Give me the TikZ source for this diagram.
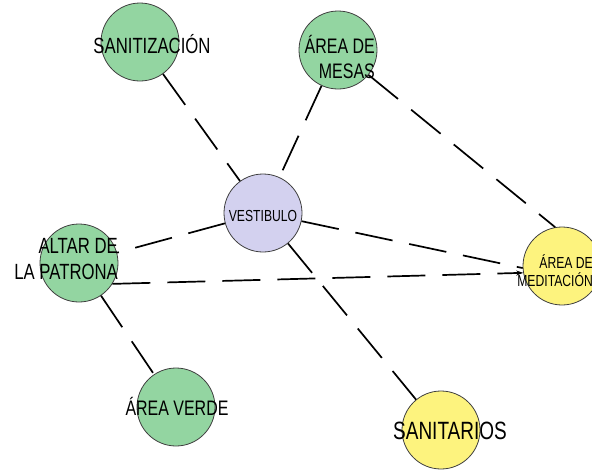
\documentclass[tikz,border=0pt]{standalone}
\usepackage{fontspec}
\setmainfont[FakeStretch=0.76]{Liberation Sans}
\usetikzlibrary{arrows.meta}
\definecolor{zonegreen}{HTML}{93D5A1}
\definecolor{zonelilac}{HTML}{D3D1EF}
\definecolor{zoneyellow}{HTML}{FDF37E}

\begin{document}
\begin{tikzpicture}[x=1pt, y=-1pt,
    zone/.style={circle, draw=black!75, line width=0.8pt, minimum size=78pt, inner sep=0pt},
    link/.style={line width=1.7pt, dash pattern=on 38pt off 17pt},
    zonetext/.style={inner sep=0pt, text=black}]
    \useasboundingbox (0,0) rectangle (592,469);

    % Zones
    \node[zone, fill=zonegreen] (sanitizacion) at (140,42) {};
    \node[zone, fill=zonegreen] (mesas) at (338,50) {};
    \node[zone, fill=zonelilac] (vestibulo) at (263,213) {};
    \node[zone, fill=zonegreen] (altar) at (79,263) {};
    \node[zone, fill=zoneyellow] (meditacion) at (562,266) {};
    \node[zone, fill=zonegreen] (verde) at (176,407) {};
    \node[zone, fill=zoneyellow] (sanitarios) at (441,430) {};

    % Links between zones
    \draw[link] (sanitizacion) -- (vestibulo);
    \draw[link] (mesas) -- (vestibulo);
    \draw[link] (mesas) -- (meditacion.100);
    \draw[link] (vestibulo) -- (altar);
    \draw[link] (vestibulo) -- (meditacion.183);
    \draw[link, -{Stealth[length=7pt, width=5pt]}] (altar.-32) -- (meditacion.190);
    \draw[link] (vestibulo) -- (sanitarios);
    \draw[link] (altar) -- (verde);

    % Zone names
    \node[zonetext, anchor=base, font=\fontsize{22}{26}\selectfont] (sanitizacion-text) at (152,53) {SANITIZACIÓN};
    \node[zonetext, anchor=base east, align=right, font=\fontsize{21}{25}\selectfont] (mesas-text) at (375,78) {ÁREA DE\\MESAS};
    \node[zonetext, anchor=base, font=\fontsize{16}{19}\selectfont] (vestibulo-text) at (263,221) {VESTIBULO};
    \node[zonetext, anchor=base east, align=right, font=\fontsize{22}{26}\selectfont] (altar-text) at (118,279) {ALTAR DE\\LA PATRONA};
    \node[zonetext, anchor=base east, align=right, font=\fontsize{16}{18}\selectfont] (meditacion-text) at (593,286) {ÁREA DE\\MEDITACIÓN};
    \node[zonetext, anchor=base, font=\fontsize{21}{25}\selectfont] (verde-text) at (177,415) {ÁREA VERDE};
    \node[zonetext, anchor=base, font=\fontsize{25}{30}\selectfont] (sanitarios-text) at (450,439) {SANITARIOS};
\end{tikzpicture}
\end{document}
